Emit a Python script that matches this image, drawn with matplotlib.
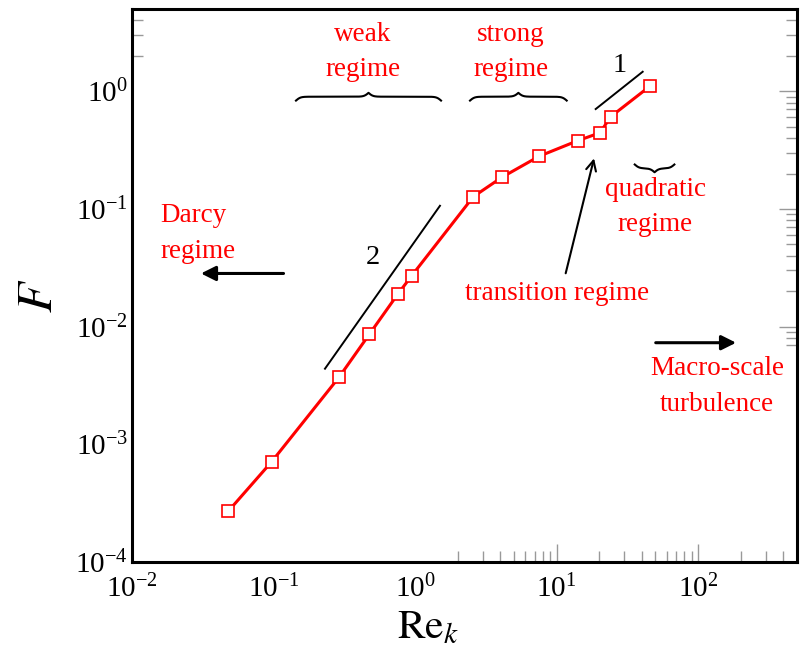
"""
Re_k vs F: Regime-Plot (log-log) mit Anmerkungen
"""

import numpy as np
import matplotlib
matplotlib.use("Agg")
import matplotlib.pyplot as plt
from matplotlib.ticker import FixedLocator, NullLocator, NullFormatter

plt.rcParams['font.family'] = ['Liberation Serif', 'DejaVu Serif']
plt.rcParams['mathtext.fontset'] = 'stix'

# Daten
re_k = [0.048, 0.097, 0.29, 0.475, 0.758, 0.948, 2.58, 4.10, 7.56, 14.1, 20.3, 24.1, 45.8]
F = [2.71e-4, 7.11e-4, 3.71e-3, 8.6e-3, 0.0190, 0.0271, 0.127, 0.1855, 0.281, 0.380, 0.444, 0.607, 1.107]

# Steigungs-Hilfslinien
slope2_x = [0.231, 1.50]
slope2_y = [4.39e-3, 0.1064]
slope1_x = [18.9, 40.6]
slope1_y = [0.706, 1.465]

x_major = [1e-2, 1e-1, 1e0, 1e1, 1e2]
y_major = [1e-4, 1e-3, 1e-2, 1e-1, 1e0]

RED = '#ff0000'
TICK_GRAY = '#999999'
FS = 19.5
LS = 1.55


def draw_brace(ax, x0, x1, y, h, up=True):
    """Geschweifte Klammer in Achsen-Koordinaten."""
    n = 201
    xs = np.linspace(x0, x1, n)
    half = xs[:n // 2 + 1]
    beta = 300.0
    yh = 1 / (1 + np.exp(-beta * (half - half[0]))) + 1 / (1 + np.exp(-beta * (half - half[-1])))
    yy = np.concatenate((yh, yh[-2::-1]))
    sign = 1 if up else -1
    ys = y + (yy - 1) * h * sign
    ax.plot(xs, ys, transform=ax.transAxes, color='k', lw=1.5, clip_on=False)


fig = plt.figure(figsize=(8.03, 6.49), dpi=100)
ax = fig.add_axes([132 / 803, 87 / 649, 665 / 803, 553 / 649])

ax.set_xscale('log')
ax.set_yscale('log')
ax.set_xlim(0.01, 500)
ax.set_ylim(1e-4, 5)

# Messkurve
ax.plot(re_k, F, color=RED, lw=2.2, marker='s', markersize=8,
        markerfacecolor='white', markeredgecolor=RED, markeredgewidth=1.2, zorder=3)

# Steigungen
ax.plot(slope2_x, slope2_y, color='k', lw=1.4)
ax.plot(slope1_x, slope1_y, color='k', lw=1.4)
ax.text(0.505, 0.039, '2', fontsize=FS + 1, ha='center', va='center')
ax.text(28.1, 1.64, '1', fontsize=FS + 1, ha='center', va='center')

# Regime-Beschriftungen
ax.text(0.429, 2.15, 'weak\nregime', color=RED, fontsize=FS, ha='center', va='center', linespacing=LS)
ax.text(4.77, 2.15, 'strong\nregime', color=RED, fontsize=FS, ha='center', va='center', linespacing=LS)
ax.text(0.0158, 0.0619, 'Darcy\nregime', color=RED, fontsize=FS, ha='left', va='center', linespacing=LS)
ax.text(10.1, 0.0193, 'transition regime', color=RED, fontsize=FS, ha='center', va='center')
ax.text(49.7, 0.104, 'quadratic\nregime', color=RED, fontsize=FS, ha='center', va='center', linespacing=LS)
ax.text(136, 0.0031, 'Macro-scale\nturbulence', color=RED, fontsize=FS, ha='center', va='center',
        linespacing=LS)

# Pfeile
ax.annotate('', xy=(0.0307, 0.0283), xytext=(0.1177, 0.0283),
            arrowprops=dict(arrowstyle='-|>', lw=2.2, color='k', mutation_scale=22,
                            shrinkA=0, shrinkB=0))
ax.annotate('', xy=(185.6, 0.0073), xytext=(50.2, 0.0073),
            arrowprops=dict(arrowstyle='-|>', lw=2.2, color='k', mutation_scale=22,
                            shrinkA=0, shrinkB=0))
ax.annotate('', xy=(18.4, 0.269), xytext=(11.6, 0.0284),
            arrowprops=dict(arrowstyle='->', lw=1.5, color='k', mutation_scale=18,
                            shrinkA=0, shrinkB=0))

# Klammern
draw_brace(ax, 0.2466, 0.4647, 0.8414, 0.014, up=True)
draw_brace(ax, 0.5083, 0.6537, 0.8414, 0.014, up=True)
draw_brace(ax, 0.756, 0.8156, 0.7118, 0.014, up=False)

# Achsen
for s in ax.spines.values():
    s.set_linewidth(2.2)
ax.xaxis.set_major_locator(FixedLocator(x_major))
ax.yaxis.set_major_locator(FixedLocator(y_major))
ax.xaxis.set_minor_locator(NullLocator())
ax.yaxis.set_minor_locator(NullLocator())
ax.tick_params(which='major', length=0, labelsize=21)
ax.tick_params(axis='x', pad=9)
ax.tick_params(axis='y', pad=3)

ax.set_xlabel(r'$\mathrm{Re}_k$', fontsize=30)
ax.set_ylabel(r'$F$', fontsize=36)
ax.xaxis.set_label_coords(0.445, -0.084)
ax.yaxis.set_label_coords(-0.104, 0.481)

# sichtbare Tick-Striche (grau, nach innen)
bx = ax.secondary_xaxis('bottom')
bx.xaxis.set_major_locator(FixedLocator([10, 100]))
bx.xaxis.set_minor_locator(FixedLocator([2, 3, 4, 5, 6, 7, 8, 9,
                                         20, 30, 40, 50, 60, 70, 80, 90,
                                         200, 300, 400]))
bx.xaxis.set_major_formatter(NullFormatter())
bx.xaxis.set_minor_formatter(NullFormatter())
bx.tick_params(which='major', direction='in', length=13, width=1, color=TICK_GRAY)
bx.tick_params(which='minor', direction='in', length=8, width=1, color=TICK_GRAY)
bx.spines['bottom'].set_visible(False)

ry = ax.secondary_yaxis('right')
ry.yaxis.set_major_locator(FixedLocator([0.01, 0.1, 1]))
ry.yaxis.set_minor_locator(FixedLocator([0.007, 0.008, 0.009,
                                         0.02, 0.03, 0.04, 0.05, 0.06, 0.07, 0.08, 0.09,
                                         0.2, 0.3, 0.4, 0.5, 0.6, 0.7, 0.8, 0.9,
                                         2, 3, 4]))
ry.yaxis.set_major_formatter(NullFormatter())
ry.yaxis.set_minor_formatter(NullFormatter())
ry.tick_params(which='major', direction='in', length=13, width=1, color=TICK_GRAY)
ry.tick_params(which='minor', direction='in', length=8, width=1, color=TICK_GRAY)
ry.spines['right'].set_visible(False)

ly = ax.secondary_yaxis('left')
ly.yaxis.set_major_locator(NullLocator())
ly.yaxis.set_minor_locator(FixedLocator([2, 3, 4]))
ly.yaxis.set_minor_formatter(NullFormatter())
ly.tick_params(which='minor', direction='in', length=8, width=1, color=TICK_GRAY)
ly.spines['left'].set_visible(False)

fig.savefig('out.png', dpi=100)
